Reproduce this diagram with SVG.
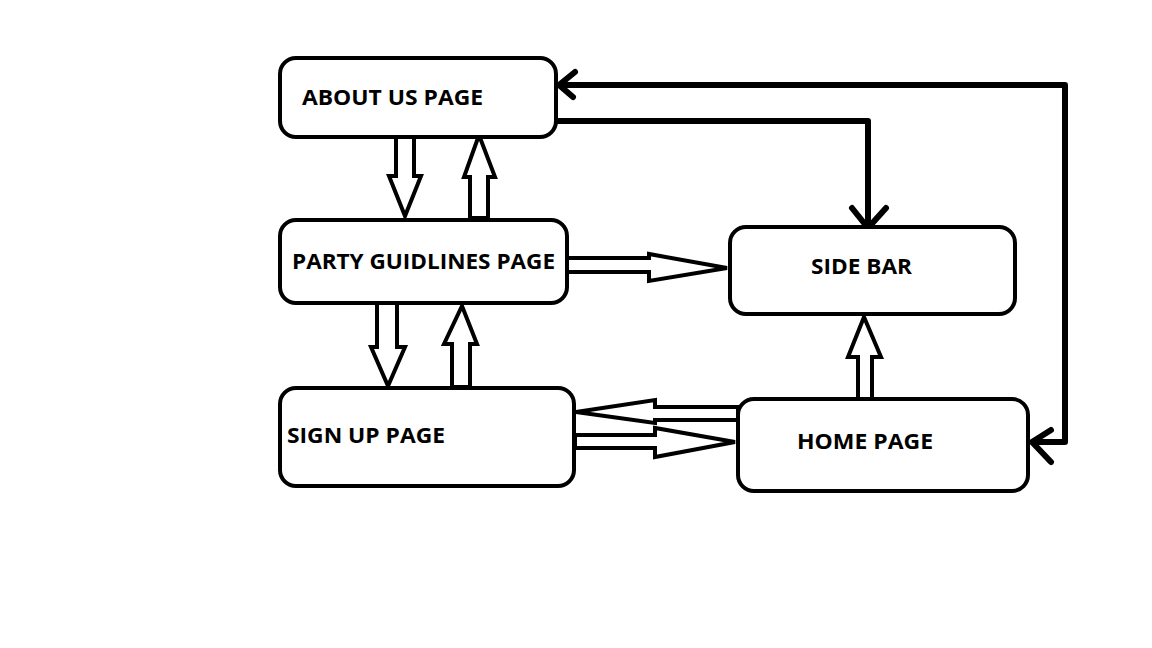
<svg xmlns="http://www.w3.org/2000/svg" width="1152" height="648" viewBox="0 0 1152 648">
<style>
.box{fill:#fff;stroke:#000;stroke-width:4}
.lbl{font-family:"Open Sans","Noto Sans","Liberation Sans",sans-serif;font-weight:bold;font-size:22px;fill:#000}
.hol{fill:#fff;stroke:#000;stroke-width:4;stroke-linejoin:miter}
.thk{fill:none;stroke:#000;stroke-width:6;stroke-linecap:round;stroke-linejoin:round}
</style>
<rect width="1152" height="648" fill="#fff"/>
<g id="connectors">
<path class="hol" d="M396,137 V176 H389 L405,216 L421,176 H414 V137 Z"/>
<path class="hol" d="M470,218 V177 H464 L479,135 L495,177 H488 V218 Z"/>
<path class="hol" d="M377,303 V347 H371 L388,386 L405,347 H397 V303 Z"/>
<path class="hol" d="M452,387 V344 H444 L462,306 L477,344 H470 V387 Z"/>
<path class="hol" d="M567,258 H649 V254 L727,268 L649,281 V272 H567 Z"/>
<path class="hol" d="M858,399 V357 H848 L864,317 L881,357 H872 V399 Z"/>
<path class="hol" d="M738,407 H655 V400 L576,412 L655,423 V420 H738 Z"/>
<path class="hol" d="M575,435 H655 V428 L735,442 L655,457 V448 H575 Z"/>
<path class="thk" d="M557,121 H868 V229 M852,208 L868,228 L886,208"/>
<path class="thk" d="M1032,442 H1065 V85 H559 M575,72 L559,85 L573,97 M1051,430 L1032,442 L1051,462"/>
</g>
<g id="about"><rect class="box" x="280" y="58" width="276" height="79" rx="16"/><text class="lbl" x="302" y="105" textLength="181" lengthAdjust="spacingAndGlyphs">ABOUT US PAGE</text></g>
<g id="party"><rect class="box" x="280" y="220" width="287" height="83" rx="16"/><text class="lbl" x="292" y="269" textLength="263" lengthAdjust="spacingAndGlyphs">PARTY GUIDLINES PAGE</text></g>
<g id="sidebar"><rect class="box" x="730" y="227" width="285" height="87" rx="16"/><text class="lbl" x="811" y="274" textLength="101" lengthAdjust="spacingAndGlyphs">SIDE BAR</text></g>
<g id="signup"><rect class="box" x="280" y="388" width="294" height="98" rx="16"/><text class="lbl" x="287" y="443" textLength="158" lengthAdjust="spacingAndGlyphs">SIGN UP PAGE</text></g>
<g id="home"><rect class="box" x="738" y="399" width="290" height="92" rx="16"/><text class="lbl" x="797" y="449" textLength="136" lengthAdjust="spacingAndGlyphs">HOME PAGE</text></g>
</svg>
